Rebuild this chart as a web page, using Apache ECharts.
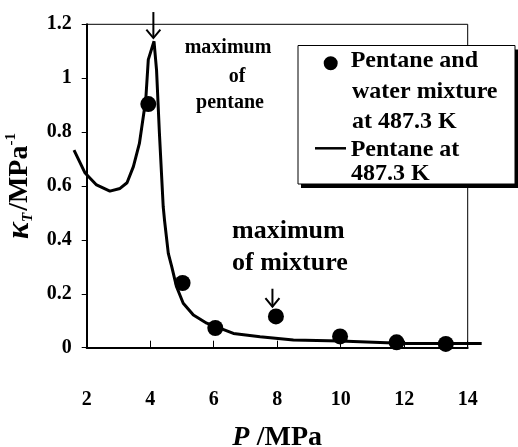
<!DOCTYPE html>
<html>
<head>
<meta charset="utf-8">
<script src="https://cdn.jsdelivr.net/npm/echarts@6/dist/echarts.min.js"></script>
<style>
  html, body { margin: 0; padding: 0; background: #fff; }
  #chart { width: 518px; height: 447px; }
</style>
</head>
<body>
<div id="chart"></div>
<script>
// pentane at 487.3 K (line)
const pentaneP = [1.6, 1.95, 2.31, 2.73, 3.05, 3.27, 3.47, 3.66, 3.86, 3.94, 4.12, 4.2, 4.29, 4.41, 4.45, 4.57, 4.68, 4.83, 5.04, 5.36, 5.78, 6.62, 7.46, 8.51, 9.98, 12.08, 14.44]
const pentaneK = [0.733, 0.648, 0.604, 0.581, 0.591, 0.612, 0.672, 0.758, 0.92, 1.069, 1.137, 1.03, 0.796, 0.523, 0.474, 0.35, 0.30, 0.226, 0.165, 0.121, 0.091, 0.053, 0.041, 0.029, 0.025, 0.016, 0.016]

// pentane + water mixture at 487.3 K (points)
const mixP = [3.94, 5.02, 6.05, 7.96, 9.98, 11.76, 13.31]
const mixK = [0.904, 0.24, 0.073, 0.116, 0.042, 0.02, 0.014]

// arrow tips (maximum of pentane, maximum of mixture)
const arrowP = [4.1, 7.85]
const arrowK = [1.149, 0.152]

const xTicks = [2, 4, 6, 8, 10, 12, 14]
const yTicks = [0, 0.2, 0.4, 0.6, 0.8, 1, 1.2]

const FONT = 'Liberation Serif'
const arrowLen = [26, 18]

// the pentane curve runs past the frame on both sides, so it gets its own
// wider (hidden) grid whose scale lines up with the framed one
const lineMin = 1.6
const lineMax = 14.45

const chart = echarts.init(document.getElementById('chart'))
chart.setOption({
  backgroundColor: '#fff',
  animation: false,
  grid: [
    {
      left: 86.7,
      right: 50.3,
      top: 24.3,
      bottom: 99.3,
      show: true,
      borderColor: '#000',
      borderWidth: 1,
      outerBoundsMode: 'none'
    },
    {
      left: 74,
      right: 36,
      top: 24.3,
      bottom: 99.3,
      show: false,
      outerBoundsMode: 'none'
    }
  ],
  xAxis: [
    {
      type: 'value',
      gridIndex: 0,
      min: xTicks[0],
      max: xTicks[xTicks.length - 1],
      interval: 2,
      name: '{p|P} {m|/MPa}',
      nameLocation: 'middle',
      nameGap: 76,
      nameTextStyle: {
        rich: {
          p: { fontFamily: FONT, fontSize: 28, fontWeight: 'bold', fontStyle: 'italic', color: '#000', padding: [0, 4, 0, 0] },
          m: { fontFamily: FONT, fontSize: 28, fontWeight: 'bold', color: '#000' }
        }
      },
      axisLine: { lineStyle: { color: '#000', width: 2 } },
      axisTick: { inside: true, length: 7, lineStyle: { color: '#000', width: 1 } },
      axisLabel: { margin: 42, fontFamily: FONT, fontSize: 20, fontWeight: 'bold', color: '#000' },
      splitLine: { show: false }
    },
    {
      type: 'value',
      gridIndex: 1,
      min: lineMin,
      max: lineMax,
      show: false
    }
  ],
  yAxis: [
    {
      type: 'value',
      gridIndex: 0,
      min: yTicks[0],
      max: yTicks[yTicks.length - 1],
      interval: 0.2,
      name: '{k|κ}{t|T}{m|/MPa}{s|-1}',
      nameLocation: 'middle',
      nameRotate: 90,
      nameGap: 44,
      nameTextStyle: {
        rich: {
          k: { fontFamily: FONT, fontSize: 32, fontWeight: 'bold', fontStyle: 'italic', color: '#000' },
          t: { fontFamily: FONT, fontSize: 15, fontWeight: 'bold', fontStyle: 'italic', color: '#000', verticalAlign: 'bottom', padding: [0, 2, 0, 0] },
          m: { fontFamily: FONT, fontSize: 28, fontWeight: 'bold', color: '#000' },
          s: { fontFamily: FONT, fontSize: 15, fontWeight: 'bold', color: '#000', verticalAlign: 'top' }
        }
      },
      axisLine: { show: true, lineStyle: { color: '#000', width: 2 } },
      axisTick: { show: true, length: 5, lineStyle: { color: '#000', width: 1 } },
      axisLabel: { margin: 15, fontFamily: FONT, fontSize: 20, fontWeight: 'bold', color: '#000' },
      splitLine: { show: false }
    },
    {
      type: 'value',
      gridIndex: 1,
      min: yTicks[0],
      max: yTicks[yTicks.length - 1],
      show: false
    }
  ],
  series: [
    {
      name: 'Pentane at 487.3 K',
      type: 'line',
      xAxisIndex: 1,
      yAxisIndex: 1,
      symbol: 'none',
      lineStyle: { color: '#000', width: 3 },
      data: pentaneP.map((p, i) => [p, pentaneK[i]]),
      z: 2
    },
    {
      name: 'Pentane and water mixture at 487.3 K',
      type: 'scatter',
      symbol: 'circle',
      symbolSize: 16,
      itemStyle: { color: '#000', opacity: 1 },
      data: mixP.map((p, i) => [p, mixK[i]]),
      z: 3
    },
    {
      type: 'custom',
      clip: false,
      silent: true,
      data: arrowP.map((p, i) => [p, arrowK[i]]),
      renderItem: function (params, api) {
        const pt = api.coord([api.value(0), api.value(1)])
        const len = arrowLen[params.dataIndex]
        const st = { stroke: '#000', lineWidth: 2, fill: null }
        return {
          type: 'group',
          children: [
            { type: 'line', shape: { x1: pt[0], y1: pt[1] - len, x2: pt[0], y2: pt[1] }, style: st },
            { type: 'polyline', shape: { points: [[pt[0] - 7, pt[1] - 8.5], [pt[0], pt[1]], [pt[0] + 7, pt[1] - 8.5]] }, style: st }
          ]
        }
      },
      z: 4
    }
  ],
  graphic: [
    // annotation: maximum of pentane
    { type: 'text', x: 228, y: 48, style: { text: 'maximum', align: 'center', verticalAlign: 'middle', font: 'bold 20px "Liberation Serif"', fill: '#000' } },
    { type: 'text', x: 237, y: 76.5, style: { text: 'of', align: 'center', verticalAlign: 'middle', font: 'bold 20px "Liberation Serif"', fill: '#000' } },
    { type: 'text', x: 230, y: 103.2, style: { text: 'pentane', align: 'center', verticalAlign: 'middle', font: 'bold 20px "Liberation Serif"', fill: '#000' } },
    // annotation: maximum of mixture
    { type: 'text', x: 232, y: 231.2, style: { text: 'maximum', align: 'left', verticalAlign: 'middle', font: 'bold 26px "Liberation Serif"', fill: '#000' } },
    { type: 'text', x: 232, y: 262.9, style: { text: 'of mixture', align: 'left', verticalAlign: 'middle', font: 'bold 26px "Liberation Serif"', fill: '#000' } },
    // legend box with its drop shadow
    { type: 'rect', shape: { x: 301, y: 49.5, width: 217, height: 138.5 }, style: { fill: '#000' }, z: 9 },
    { type: 'rect', shape: { x: 298, y: 45.5, width: 217, height: 138.5 }, style: { fill: '#fff', stroke: '#000', lineWidth: 1 }, z: 10 },
    { type: 'circle', shape: { cx: 330.7, cy: 63.3, r: 7 }, style: { fill: '#000' }, z: 11 },
    { type: 'line', shape: { x1: 315, y1: 148.3, x2: 346, y2: 148.3 }, style: { stroke: '#000', lineWidth: 2.5 }, z: 11 },
    { type: 'text', x: 350.7, y: 61.1, z: 11, style: { text: 'Pentane and', align: 'left', verticalAlign: 'middle', font: 'bold 24px "Liberation Serif"', fill: '#000' } },
    { type: 'text', x: 352, y: 91.8, z: 11, style: { text: 'water mixture', align: 'left', verticalAlign: 'middle', font: 'bold 24px "Liberation Serif"', fill: '#000' } },
    { type: 'text', x: 352, y: 121.8, z: 11, style: { text: 'at 487.3 K', align: 'left', verticalAlign: 'middle', font: 'bold 24px "Liberation Serif"', fill: '#000' } },
    { type: 'text', x: 350.7, y: 150.1, z: 11, style: { text: 'Pentane at', align: 'left', verticalAlign: 'middle', font: 'bold 24px "Liberation Serif"', fill: '#000' } },
    { type: 'text', x: 351, y: 173.5, z: 11, style: { text: '487.3 K', align: 'left', verticalAlign: 'middle', font: 'bold 24px "Liberation Serif"', fill: '#000' } }
  ]
})
</script>
</body>
</html>
